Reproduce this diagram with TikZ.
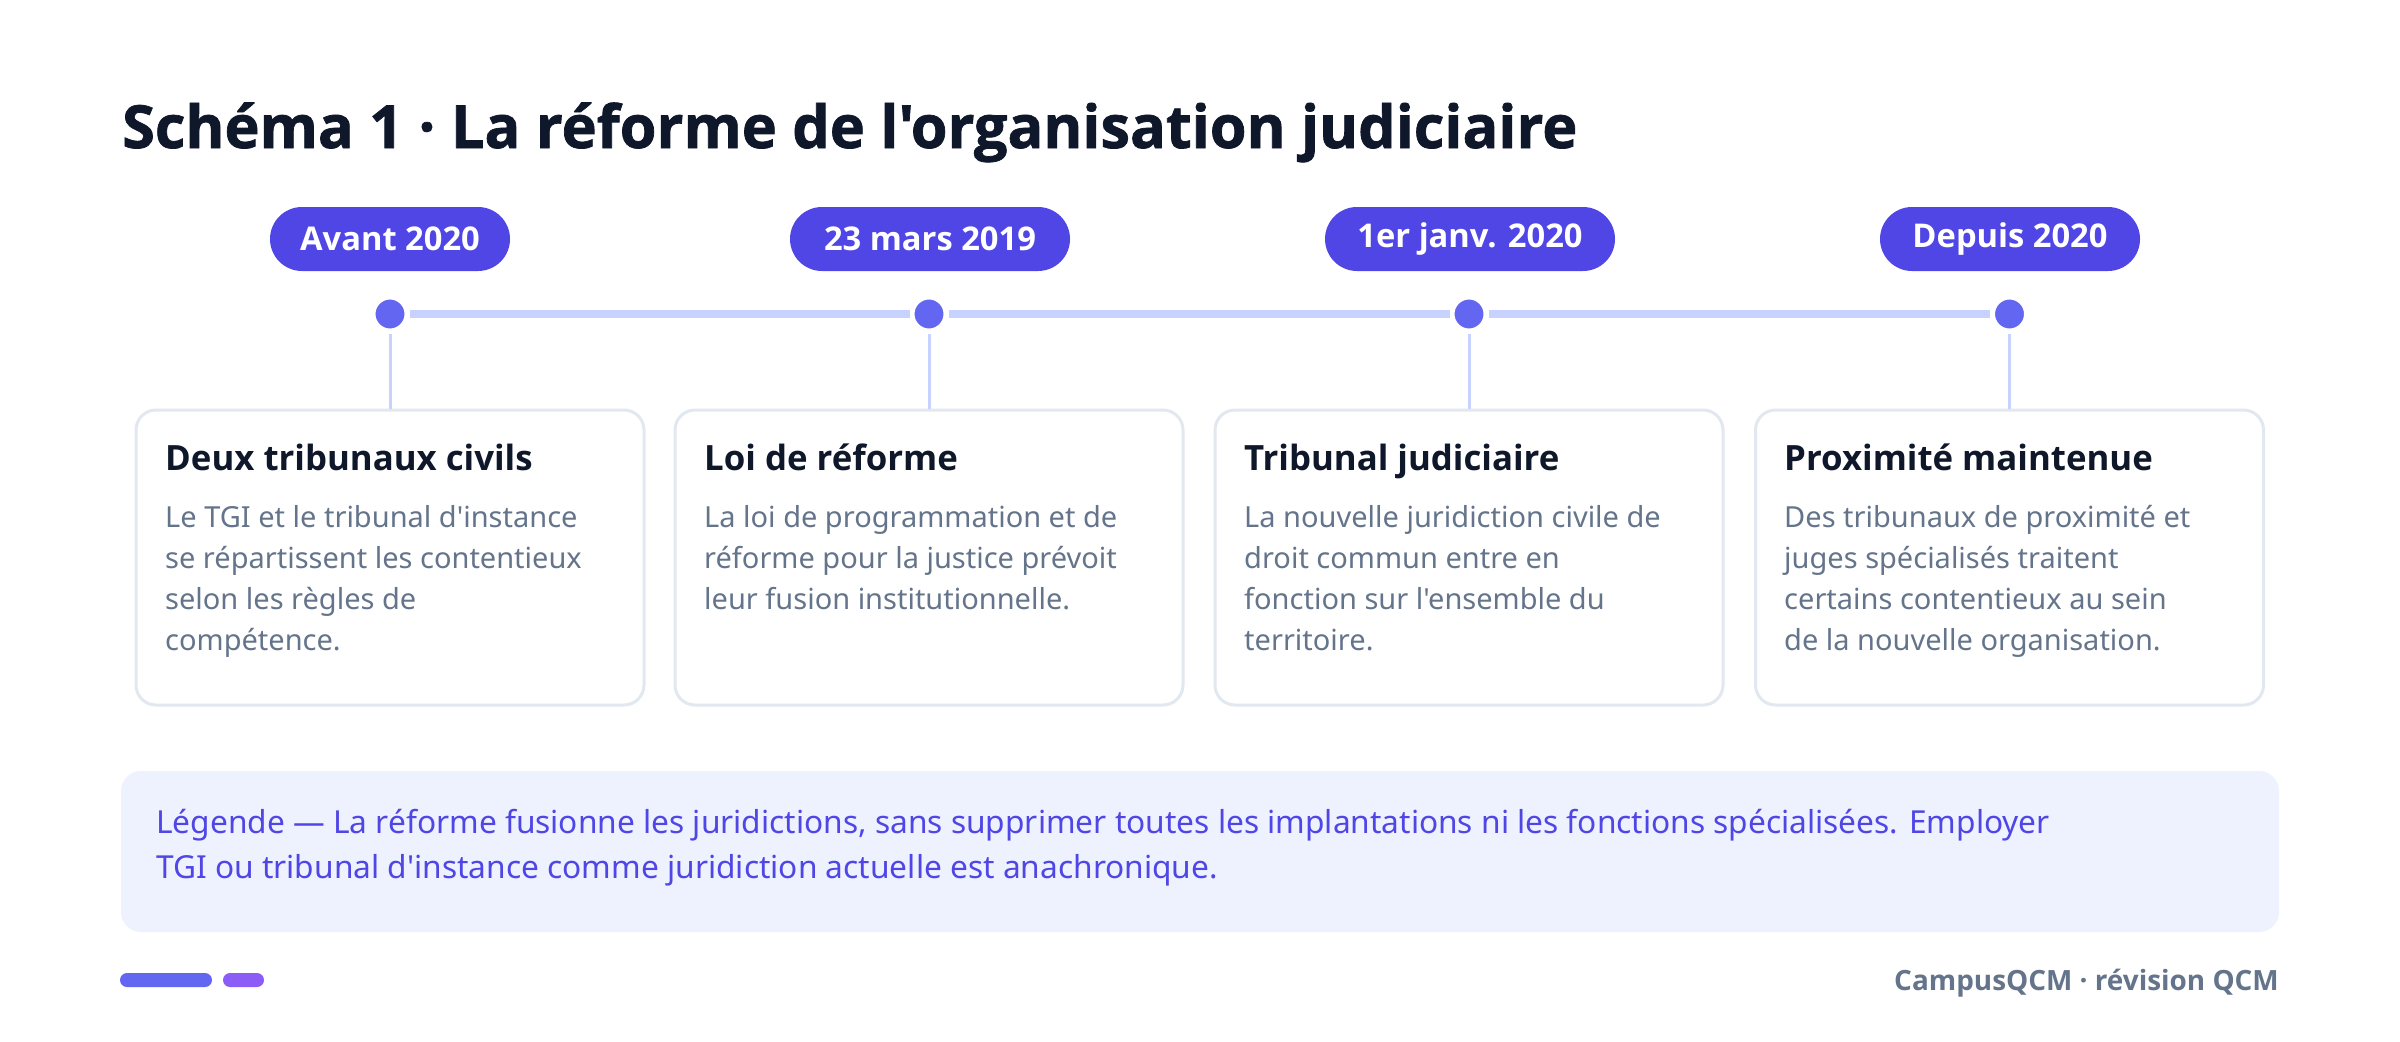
\documentclass[tikz,border=0pt]{standalone}
\usepackage{fontspec}
\setmainfont{Noto Sans}[Ligatures=TeXOff]
\newfontfamily\BoldFam{Open Sans}[Ligatures=TeXOff]
\newfontfamily\HeadFam{Open Sans}[Ligatures=TeXOff, BoldFeatures={FakeBold=1.2}]
\definecolor{titlec}{HTML}{0F172A}
\definecolor{bodyc}{HTML}{64748B}
\definecolor{pillc}{HTML}{4F46E5}
\definecolor{dotc}{HTML}{6366F1}
\definecolor{linec}{HTML}{C7D2FE}
\definecolor{cardc}{HTML}{E2E8F0}
\definecolor{legfill}{HTML}{EEF2FF}
\definecolor{legtext}{HTML}{4F46E5}
\definecolor{violetc}{HTML}{8B5CF6}
\newcommand\TFont{\HeadFam\bfseries\fontsize{59.4}{70}\selectfont}
\newcommand\PFont{\BoldFam\bfseries\fontsize{32.7}{36}\selectfont}
\newcommand\CTFont{\BoldFam\bfseries\fontsize{34.8}{40}\selectfont}
\newcommand\BFont{\fontsize{29}{41}\selectfont}
\newcommand\LFont{\fontsize{31.7}{45}\selectfont}
\newcommand\FFont{\BoldFam\bfseries\fontsize{27.9}{32}\selectfont}
\newcommand\Lines[2]{\vtop{\baselineskip=#1pt\lineskiplimit=-100pt #2}}
\tikzset{
  pill/.style={fill=pillc, text=white, rounded corners=32, minimum height=64, inner sep=0, font=\PFont},
  dot/.style={circle, fill=dotc, draw=white, line width=5, minimum size=34, inner sep=0},
  card/.style={draw=cardc, line width=3, fill=white, rounded corners=20, minimum width=508, minimum height=295, inner sep=0},
  tline/.style={draw=linec, line width=8},
  vline/.style={draw=linec, line width=3},
  ctitle/.style={anchor=base west, inner sep=0, text=titlec, font=\CTFont},
  cbody/.style={anchor=base west, inner sep=0, text=bodyc, font=\BFont},
}
\begin{document}
\begin{tikzpicture}[x=1pt,y=-1pt]
\useasboundingbox (0,0) rectangle (2400,1041);
\fill[white] (0,0) rectangle (2400,1041);
% title
\node[anchor=base west, inner sep=0, text=titlec, font=\TFont] (title) at (122,148) {Schéma 1 · La réforme de l'organisation judiciaire};
% pills
\node[pill, minimum width=240] (p1) at (390,239) {Avant 2020};
\node[pill, minimum width=280] (p2) at (930,239) {23 mars 2019};
\node[pill, minimum width=290] (p3) at (1470,239) {1er janv. 2020};
\node[pill, minimum width=260] (p4) at (2010,239) {Depuis 2020};
% cards
\node[card] (c1) at (390,557.5) {};
\node[card] (c2) at (929,557.5) {};
\node[card] (c3) at (1469,557.5) {};
\node[card] (c4) at (2009.5,557.5) {};
% dots
\node[dot] (d1) at (390,314) {};
\node[dot] (d2) at (929,314) {};
\node[dot] (d3) at (1469,314) {};
\node[dot] (d4) at (2009.5,314) {};
\draw[tline] (d1) -- (d2);
\draw[tline] (d2) -- (d3);
\draw[tline] (d3) -- (d4);
\draw[vline] (d1) -- (c1.north);
\draw[vline] (d2) -- (c2.north);
\draw[vline] (d3) -- (c3.north);
\draw[vline] (d4) -- (c4.north);
% card texts
\node[ctitle] (t1) at (165,470) {Deux tribunaux civils};
\node[cbody] (b1) at (165,527) {\Lines{41}{\hbox{Le TGI et le tribunal d'instance}\hbox{se répartissent les contentieux}\hbox{selon les règles de}\hbox{compétence.}}};
\node[ctitle] (t2) at (704,470) {Loi de réforme};
\node[cbody] (b2) at (704,527) {\Lines{41}{\hbox{La loi de programmation et de}\hbox{réforme pour la justice prévoit}\hbox{leur fusion institutionnelle.}}};
\node[ctitle] (t3) at (1244,470) {Tribunal judiciaire};
\node[cbody] (b3) at (1244,527) {\Lines{41}{\hbox{La nouvelle juridiction civile de}\hbox{droit commun entre en}\hbox{fonction sur l'ensemble du}\hbox{territoire.}}};
\node[ctitle] (t4) at (1784,470) {Proximité maintenue};
\node[cbody] (b4) at (1784,527) {\Lines{41}{\hbox{Des tribunaux de proximité et}\hbox{juges spécialisés traitent}\hbox{certains contentieux au sein}\hbox{de la nouvelle organisation.}}};
% legend
\node[fill=legfill, rounded corners=20, minimum width=2158, minimum height=161, inner sep=0] (leg) at (1200,851.5) {};
\node[anchor=base west, inner sep=0, text=legtext, font=\LFont] (legt) at (156,833) {\Lines{45}{\hbox{Légende — La réforme fusionne les juridictions, sans supprimer toutes les implantations ni les fonctions spécialisées. Employer}\hbox{TGI ou tribunal d'instance comme juridiction actuelle est anachronique.}}};
% footer
\node[fill=dotc, rounded corners=7, minimum width=92, minimum height=14, inner sep=0] (bar1) at (166,980) {};
\node[fill=violetc, rounded corners=7, minimum width=41, minimum height=14, inner sep=0] (bar2) at (243.5,980) {};
\node[anchor=base east, inner sep=0, text=bodyc, font=\FFont] (foot) at (2279,990) {CampusQCM · révision QCM};
\end{tikzpicture}
\end{document}
